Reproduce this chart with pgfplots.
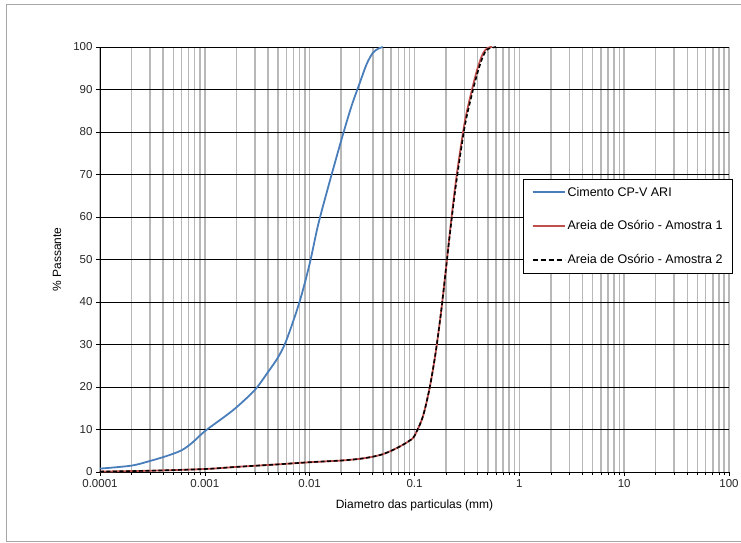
\documentclass[border=0pt]{standalone}
\usepackage{pgfplots}
\pgfplotsset{compat=1.18}
\usepackage{fontspec}
\setmainfont{Liberation Sans}
\definecolor{cblue}{HTML}{4A7EBB}
\definecolor{cred}{HTML}{C0504D}
\begin{document}
\begin{tikzpicture}[x=1pt,y=1pt]
\useasboundingbox (-100,-71) rectangle (641,472);
\draw[black!35, line width=1pt] (-93,-69) rectangle (660,467);
\begin{axis}[
  at={(0,0)}, anchor=south west,
  scale only axis, width=629pt, height=425pt,
  xmode=log, xmin=0.0001, xmax=100, ymin=0, ymax=100,
  xtick={0.0001,0.001,0.01,0.1,1,10,100},
  xticklabels={0.0001,0.001,0.01,0.1,1,10,100},
  ytick={0,10,...,100},
  axis x line=bottom, axis y line=left,
  axis line style={-, black, line width=0.8pt},
  tick align=outside, major tick length=4pt, minor tick length=3pt,
  tick style={black, line width=0.6pt},
  xmajorgrids, xminorgrids, ymajorgrids,
  x grid style={black!28, line width=1.5pt},
  y grid style={black, line width=0.8pt},
  /pgf/number format/assume math mode=true,
  tick label style={font=\fontsize{11.5}{13}\selectfont, text=black!85},
  label style={font=\fontsize{12}{14}\selectfont},
  xlabel={Diametro das particulas (mm)},
  ylabel={\% Passante},
  xlabel style={at={(axis description cs:0.5,0)}, anchor=center, yshift=-33pt},
  ylabel style={at={(axis description cs:0,0.5)}, anchor=center, yshift=43pt},
  legend style={at={(axis description cs:1.006,0.69)}, anchor=north east,
    draw=black, line width=0.6pt, fill=white, font=\fontsize{12.5}{13}\selectfont,
    row sep=19pt, inner xsep=8pt, inner ysep=6pt},
  legend cell align=left,
]
\addplot[cblue, line width=1.8pt, smooth, forget plot] coordinates {
(0.0001,0.8) (0.0002,1.5) (0.0003,2.6) (0.0004,3.5) (0.0005,4.3) (0.0006,5.1)
(0.0007,6.2) (0.0008,7.4) (0.001,9.6) (0.0015,12.8) (0.002,15.2) (0.003,19.3)
(0.004,23.5) (0.005,27) (0.006,31) (0.008,40) (0.01,49) (0.012,58) (0.015,67)
(0.02,78) (0.025,86) (0.03,91.5) (0.035,96) (0.04,98.6) (0.045,99.6) (0.05,100)
};
\addplot[cred, line width=1.8pt, smooth, forget plot] coordinates {
(0.0001,0.1) (0.0003,0.3) (0.001,0.7) (0.002,1.2) (0.005,1.8) (0.01,2.3)
(0.02,2.7) (0.03,3.1) (0.04,3.6) (0.05,4.2) (0.06,5) (0.07,5.8) (0.08,6.6)
(0.09,7.4) (0.1,8.5) (0.12,13) (0.14,20) (0.16,28.5) (0.18,38) (0.2,48)
(0.22,57.5) (0.25,69) (0.3,82) (0.35,89.5) (0.4,95) (0.45,98.5) (0.5,99.8) (0.55,100)
};
\addplot[black, line width=1.6pt, dash pattern=on 4pt off 2.5pt, smooth, forget plot] coordinates {
(0.0001,0.1) (0.0003,0.3) (0.001,0.7) (0.002,1.2) (0.005,1.8) (0.01,2.3)
(0.02,2.7) (0.03,3.1) (0.04,3.6) (0.05,4.2) (0.06,5) (0.07,5.8) (0.08,6.6)
(0.09,7.4) (0.1,8.5) (0.12,13) (0.14,20) (0.16,28.5) (0.18,38) (0.2,48)
(0.22,57) (0.25,68) (0.3,81) (0.35,88.5) (0.4,94) (0.45,97.8) (0.5,99.5) (0.6,100)
};
\addlegendimage{cblue, line width=1.8pt, legend image code/.code={\draw[cblue, line width=2pt] (0pt,0pt) -- (32pt,0pt);}}
\addlegendentry{Cimento CP-V ARI}
\addlegendimage{cred, line width=1.8pt, legend image code/.code={\draw[cred, line width=2pt] (0pt,0pt) -- (32pt,0pt);}}
\addlegendentry{Areia de Osório - Amostra 1}
\addlegendimage{black, line width=1.6pt, legend image code/.code={\draw[black, line width=1.8pt, dash pattern=on 5pt off 3pt] (0pt,0pt) -- (32pt,0pt);}}
\addlegendentry{Areia de Osório - Amostra 2}
\end{axis}
\end{tikzpicture}
\end{document}
